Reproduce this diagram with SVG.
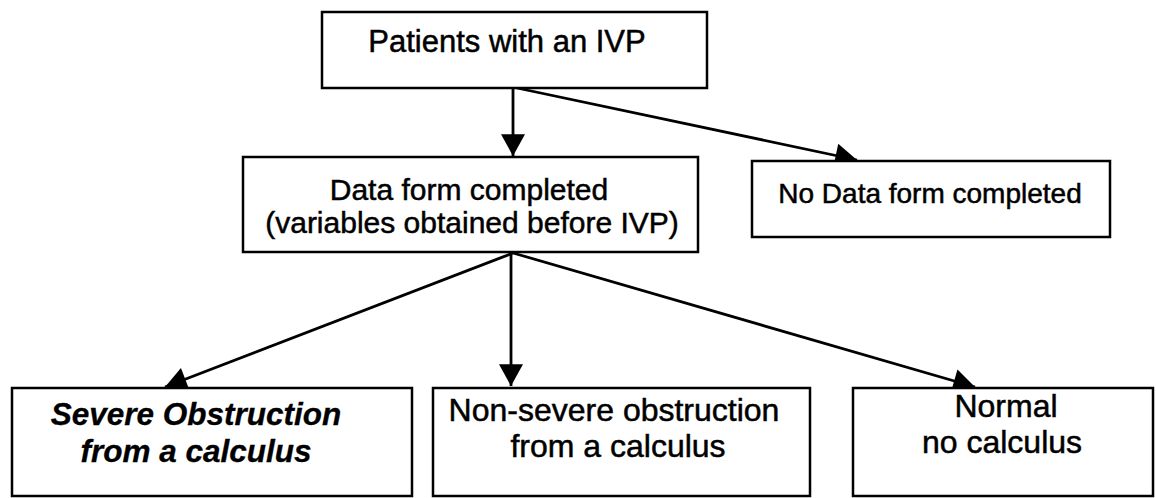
<svg xmlns="http://www.w3.org/2000/svg" width="1156" height="498" viewBox="0 0 1156 498">
  <style>
    .box { fill: #ffffff; stroke: #000000; stroke-width: 2.5; }
    .lbl { font-family: "Liberation Sans", Arial, sans-serif; font-size: 30px; fill: #000000; stroke: #000000; stroke-width: 0.5; text-anchor: middle; }
    .em { font-weight: bold; font-style: italic; font-size: 31.5px; stroke-width: 0.3; }
    .big { font-size: 32px; }
    .top { font-size: 31px; }
    .small { font-size: 28px; }
    .edge { stroke: #000000; stroke-width: 2.8; fill: none; marker-end: url(#head); }
  </style>
  <defs>
    <marker id="head" markerUnits="userSpaceOnUse" markerWidth="24" markerHeight="24" viewBox="0 0 19 21" refX="19" refY="10.5" orient="auto">
      <path d="M0,0 L19,10.5 L0,21 Z" fill="#000000"/>
    </marker>
  </defs>
  <rect width="1156" height="498" fill="#ffffff"/>

  <g id="connectors">
    <line class="edge" x1="513" y1="88" x2="513" y2="156"/>
    <line class="edge" x1="517" y1="88" x2="857" y2="160"/>
    <line class="edge" x1="513" y1="253" x2="165" y2="387"/>
    <line class="edge" x1="511" y1="253" x2="511" y2="386"/>
    <line class="edge" x1="513" y1="253" x2="975" y2="387"/>
  </g>

  <g id="patients">
    <rect class="box" x="322" y="12" width="385" height="76"/>
    <text class="lbl top" x="507" y="52">Patients with an IVP</text>
  </g>

  <g id="data-form">
    <rect class="box" x="243" y="157" width="455" height="95"/>
    <text class="lbl" x="469" y="200">Data form completed</text>
    <text class="lbl" x="472" y="233">(variables obtained before IVP)</text>
  </g>

  <g id="no-data-form">
    <rect class="box" x="752" y="161" width="358" height="76"/>
    <text class="lbl small" x="930" y="203">No Data form completed</text>
  </g>

  <g id="severe">
    <rect class="box" x="12" y="388" width="400" height="108"/>
    <text class="lbl em" x="196" y="425">Severe Obstruction</text>
    <text class="lbl em" x="196" y="462">from a calculus</text>
  </g>

  <g id="non-severe">
    <rect class="box" x="433" y="388" width="377" height="108"/>
    <text class="lbl big" x="614" y="421">Non-severe obstruction</text>
    <text class="lbl big" x="618" y="457">from a calculus</text>
  </g>

  <g id="normal">
    <rect class="box" x="853" y="388" width="300" height="108"/>
    <text class="lbl big" x="1006" y="417">Normal</text>
    <text class="lbl big" x="1002" y="453">no calculus</text>
  </g>
</svg>
